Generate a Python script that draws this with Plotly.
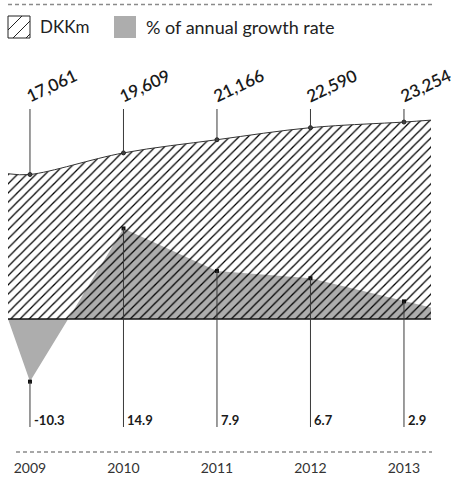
import plotly.graph_objects as go

# ---------------- data ----------------
years = [2009, 2010, 2011, 2012, 2013]
year_labels = ["2009", "2010", "2011", "2012", "2013"]
dkkm = [17061, 19609, 21166, 22590, 23254]
growth = [-10.3, 14.9, 7.9, 6.7, 2.9]
# values read at the left / right edges of the plotting area
edge_x = [2008.765, 2013.289]
dkkm_edge = [17150, 23480]
growth_edge = [0.0, 1.9]

# ---------------- layout constants (pixels) ----------------
W, H = 451, 477
PLOT_L, PLOT_R = 8, 431
ZERO_PX = 319
DKK_PX_PER_UNIT = 0.00847
GR_PX_PER_UNIT = 6.08
STEM_TOP_PX = 109
STEM_BOT_PX = 427


def fx(px):
    return px / W


def fy(py):
    return 1 - py / H


y_range = [-(H - ZERO_PX) / GR_PX_PER_UNIT, ZERO_PX / GR_PX_PER_UNIT]
y2_range = [-(H - ZERO_PX) / DKK_PX_PER_UNIT, ZERO_PX / DKK_PX_PER_UNIT]
stem_top_y2 = (ZERO_PX - STEM_TOP_PX) / DKK_PX_PER_UNIT
stem_bot_y = -(STEM_BOT_PX - ZERO_PX) / GR_PX_PER_UNIT

GREY = "#adadad"
DARK = "#3a3a3a"
FONT = "Lato"

fig = go.Figure()

# growth-rate area (below the hatch)
fig.add_trace(go.Scatter(
    x=[edge_x[0]] + years + [edge_x[1]],
    y=[growth_edge[0]] + growth + [growth_edge[1]],
    mode="lines", fill="tozeroy", fillcolor=GREY,
    line=dict(width=0, color=GREY), yaxis="y", hoverinfo="skip",
    showlegend=False,
))

# DKKm hatched area
fig.add_trace(go.Scatter(
    x=[edge_x[0]] + years + [edge_x[1]],
    y=[dkkm_edge[0]] + dkkm + [dkkm_edge[1]],
    mode="lines", line=dict(shape="spline", smoothing=1.0, width=1, color="#333333"),
    fill="tozeroy", fillcolor="rgba(0,0,0,0)",
    fillpattern=dict(shape="/", fgcolor="#000000", bgcolor="rgba(0,0,0,0)",
                     size=6.5, solidity=0.2, fillmode="replace"),
    yaxis="y2", hoverinfo="skip", showlegend=False,
))

shapes = []
# zero line
shapes.append(dict(type="line", xref="x", yref="y", x0=edge_x[0], x1=edge_x[1],
                   y0=0, y1=0, line=dict(color="#111111", width=1.5), layer="above"))
# stems
for yr, v in zip(years, dkkm):
    shapes.append(dict(type="line", xref="x", yref="y2", x0=yr, x1=yr, y0=v,
                       y1=stem_top_y2, line=dict(color=DARK, width=1), layer="above"))
for yr, g in zip(years, growth):
    shapes.append(dict(type="line", xref="x", yref="y", x0=yr, x1=yr, y0=g,
                       y1=stem_bot_y, line=dict(color=DARK, width=1), layer="above"))

# dots
fig.add_trace(go.Scatter(x=years, y=dkkm, mode="markers", yaxis="y2",
                         marker=dict(size=4, color="#444444", line=dict(color="#222222", width=1)),
                         hoverinfo="skip", showlegend=False))
fig.add_trace(go.Scatter(x=years, y=growth, mode="markers", yaxis="y",
                         marker=dict(size=4, color="#111111", symbol="square"),
                         hoverinfo="skip", showlegend=False))

annotations = []
for yr, v in zip(years, dkkm):
    annotations.append(dict(x=yr, y=fy(STEM_TOP_PX), xref="x", yref="paper",
                            text=f"{v:,}", textangle=-25, showarrow=False,
                            xanchor="left", yanchor="bottom", xshift=-10, yshift=0,
                            font=dict(family=FONT, size=17, color="#1a1a1a", weight=600)))
for yr, g in zip(years, growth):
    annotations.append(dict(x=yr, y=fy(STEM_BOT_PX + 3), xref="x", yref="paper",
                            text=f"<b>{g}</b>", showarrow=False,
                            xanchor="left", yanchor="bottom", xshift=2,
                            font=dict(family=FONT, size=13, color="#1a1a1a")))

# dashed separators
shapes.append(dict(type="line", xref="paper", yref="paper", x0=fx(8), x1=fx(432),
                   y0=fy(4.5), y1=fy(4.5), line=dict(color="#8a8a8a", width=1.3, dash="4px,3px")))
shapes.append(dict(type="line", xref="paper", yref="paper", x0=fx(16), x1=fx(432),
                   y0=fy(452), y1=fy(452), line=dict(color="#8a8a8a", width=1.3, dash="4px,3px")))

# legend swatches
bx0, by0, bx1, by1 = 8, 16, 30, 38
shapes.append(dict(type="rect", xref="paper", yref="paper", x0=fx(bx0), x1=fx(bx1),
                   y0=fy(by1), y1=fy(by0), line=dict(color="#222222", width=1),
                   fillcolor="rgba(0,0,0,0)"))
path = ""
for c in (38, 51, 64):
    xa = max(bx0, c - by1)
    xb = min(bx1, c - by0)
    path += f"M{fx(xa)},{fy(c - xa)} L{fx(xb)},{fy(c - xb)} "
shapes.append(dict(type="path", xref="paper", yref="paper", path=path,
                   line=dict(color="#222222", width=1)))
shapes.append(dict(type="rect", xref="paper", yref="paper", x0=fx(114), x1=fx(136),
                   y0=fy(38), y1=fy(16), line=dict(width=0), fillcolor=GREY))
annotations.append(dict(x=fx(38), y=fy(27), xref="paper", yref="paper", text="DKKm",
                        showarrow=False, xanchor="left", yanchor="middle",
                        font=dict(family=FONT, size=17, color="#222222")))
annotations.append(dict(x=fx(144), y=fy(27), xref="paper", yref="paper",
                        text="% of annual growth rate",
                        showarrow=False, xanchor="left", yanchor="middle",
                        font=dict(family=FONT, size=18, color="#222222")))

fig.update_layout(
    width=W, height=H,
    margin=dict(l=0, r=0, t=0, b=0),
    paper_bgcolor="white", plot_bgcolor="rgba(0,0,0,0)",
    xaxis=dict(domain=[fx(PLOT_L), fx(PLOT_R)], range=edge_x,
               tickvals=years, ticktext=year_labels, showgrid=False, zeroline=False,
               showline=False, ticks="", anchor="free", position=fy(458),
               tickfont=dict(family=FONT, size=14, color="#333333")),
    yaxis=dict(domain=[0, 1], range=y_range, visible=False, showgrid=False, zeroline=False),
    yaxis2=dict(range=y2_range, overlaying="y", visible=False, showgrid=False, zeroline=False),
    shapes=shapes, annotations=annotations, showlegend=False,
)

fig.write_html("out.html")
